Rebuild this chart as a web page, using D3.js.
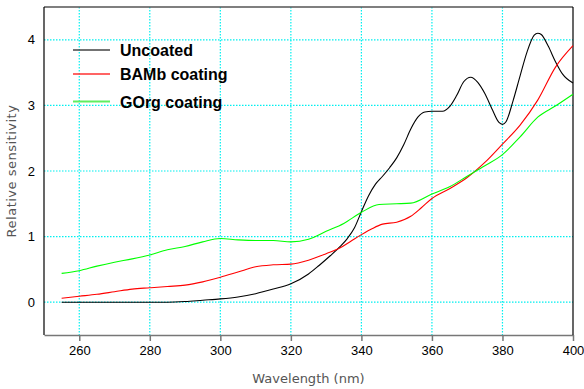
<!DOCTYPE html>
<html>
<head>
<meta charset="utf-8">
<script src="https://cdn.jsdelivr.net/npm/d3@7/dist/d3.min.js"></script>
<style>
  body { margin: 0; background: #fff; }
  svg { display: block; }
</style>
</head>
<body>
<div id="chart"></div>
<script>
// wavelength (nm) / relative sensitivity
const uncoatedNm = [255, 260, 265, 270, 275, 280, 285, 290, 295, 300, 305, 310, 315, 320, 325, 328, 331, 334, 336, 338, 340, 342, 344, 346, 348, 350, 352, 354, 356, 358, 360, 363, 365, 367, 369, 371, 373, 375, 377, 379, 380, 381, 383, 385, 387, 389, 390, 391, 393, 395, 397, 400];
const uncoatedVal = [0, 0, 0, 0, 0, 0, 0, 0.01, 0.03, 0.05, 0.08, 0.13, 0.2, 0.28, 0.43, 0.56, 0.7, 0.85, 0.97, 1.13, 1.38, 1.62, 1.8, 1.92, 2.05, 2.2, 2.4, 2.64, 2.82, 2.9, 2.91, 2.91, 2.98, 3.15, 3.36, 3.43, 3.35, 3.18, 2.95, 2.74, 2.71, 2.75, 3.07, 3.45, 3.82, 4.07, 4.1, 4.08, 3.9, 3.67, 3.48, 3.34];

const bambNm = [255, 260, 265, 270, 275, 280, 285, 290, 295, 300, 305, 310, 315, 320, 325, 330, 334, 337, 340, 343, 346, 350, 354, 357, 360, 365, 370, 375, 380, 385, 390, 395, 400];
const bambVal = [0.06, 0.09, 0.12, 0.16, 0.2, 0.22, 0.24, 0.26, 0.31, 0.38, 0.46, 0.54, 0.57, 0.58, 0.64, 0.74, 0.83, 0.93, 1.03, 1.12, 1.19, 1.22, 1.31, 1.44, 1.58, 1.73, 1.9, 2.13, 2.41, 2.7, 3.08, 3.58, 3.91];

const gorgNm = [255, 260, 265, 270, 275, 280, 285, 290, 295, 300, 305, 310, 315, 320, 325, 330, 335, 340, 345, 350, 354, 360, 365, 370, 375, 380, 385, 390, 395, 400];
const gorgVal = [0.44, 0.48, 0.55, 0.61, 0.66, 0.72, 0.8, 0.85, 0.92, 0.97, 0.95, 0.94, 0.94, 0.92, 0.96, 1.08, 1.2, 1.37, 1.49, 1.5, 1.51, 1.65, 1.76, 1.92, 2.08, 2.25, 2.52, 2.82, 2.99, 3.17];

const xTicks = [260, 280, 300, 320, 340, 360, 380, 400];
const yTicks = [0, 1, 2, 3, 4];
const seriesNames = ['Uncoated', 'BAMb coating', 'GOrg coating'];
const seriesColors = ['#000000', '#ff0000', '#00ff00'];

const W = 584, H = 389;
const margin = { top: 7, right: 11, bottom: 54, left: 44 };
const width = W - margin.left - margin.right;
const height = H - margin.top - margin.bottom;

const svg = d3.select('#chart').append('svg')
  .attr('width', W).attr('height', H);

const g = svg.append('g').attr('transform', `translate(${margin.left},${margin.top})`);

const x = d3.scaleLinear().domain([250, 400]).range([0, width]);
const y = d3.scaleLinear().domain([-0.5, 4.5]).range([height, 0]);

// grid
g.append('g').selectAll('line').data(xTicks.filter(d => d < 400)).enter().append('line')
  .attr('x1', d => x(d)).attr('x2', d => x(d))
  .attr('y1', 0).attr('y2', height)
  .attr('stroke', '#00f0f0').attr('stroke-width', 1.2)
  .attr('stroke-dasharray', '1.5,1.5');
g.append('g').selectAll('line').data(yTicks).enter().append('line')
  .attr('x1', 0).attr('x2', width)
  .attr('y1', d => y(d)).attr('y2', d => y(d))
  .attr('stroke', '#00f0f0').attr('stroke-width', 1.2)
  .attr('stroke-dasharray', '1.5,1.5');

// x axis
const xAxis = g.append('g')
  .attr('transform', `translate(0,${height})`)
  .call(d3.axisBottom(x).tickValues(xTicks).tickSize(6).tickSizeOuter(0).tickPadding(5));
xAxis.select('.domain').attr('stroke', '#777').attr('stroke-width', 1.5);
xAxis.selectAll('.tick line').attr('stroke', '#777').attr('stroke-width', 1.5);
xAxis.selectAll('.tick text')
  .attr('font-family', 'Liberation Sans, Arial, sans-serif')
  .attr('font-size', 13).attr('fill', '#000');

// y axis
const yAxis = g.append('g')
  .call(d3.axisLeft(y).tickValues(yTicks).tickFormat(d3.format('d')).tickSize(0).tickPadding(9));
yAxis.select('.domain').remove();
yAxis.selectAll('.tick text')
  .attr('font-family', 'Liberation Sans, Arial, sans-serif')
  .attr('font-size', 13).attr('fill', '#000');

// frame
g.append('line').attr('x1', 0).attr('x2', width).attr('y1', 0).attr('y2', 0)
  .attr('stroke', '#555').attr('stroke-width', 1.5);
g.append('line').attr('x1', 0).attr('x2', 0).attr('y1', 0).attr('y2', height)
  .attr('stroke', '#000').attr('stroke-width', 1.2);
g.append('line').attr('x1', width).attr('x2', width).attr('y1', 0).attr('y2', height)
  .attr('stroke', '#000').attr('stroke-width', 1.2);

// lines
const series = [
  uncoatedNm.map((d, i) => [d, uncoatedVal[i]]),
  bambNm.map((d, i) => [d, bambVal[i]]),
  gorgNm.map((d, i) => [d, gorgVal[i]])
];
const line = d3.line()
  .x(d => x(d[0])).y(d => y(d[1]))
  .curve(d3.curveMonotoneX);

g.selectAll('path.series').data(series).enter().append('path')
  .attr('class', 'series')
  .attr('d', line)
  .attr('fill', 'none')
  .attr('stroke', (d, i) => seriesColors[i])
  .attr('stroke-width', 1.1);

// legend
const legendY = [43, 67, 94.5];
const leg = g.append('g').selectAll('g').data(seriesNames).enter().append('g')
  .attr('transform', (d, i) => `translate(0,${legendY[i]})`);
leg.append('line')
  .attr('x1', 29).attr('x2', 66).attr('y1', 0).attr('y2', 0)
  .attr('stroke', (d, i) => i == 0 ? '#444' : (i == 1 ? '#ff3030' : '#60ee60'))
  .attr('stroke-width', (d, i) => i == 2 ? 2.2 : 1.5);
leg.append('text')
  .attr('x', 76).attr('y', 6)
  .attr('font-family', 'Liberation Sans, Arial, sans-serif')
  .attr('font-weight', 'bold').attr('font-size', 16)
  .attr('fill', '#000')
  .text(d => d);

// axis titles
svg.append('text')
  .attr('x', margin.left + width / 2).attr('y', 383)
  .attr('text-anchor', 'middle')
  .attr('font-family', 'DejaVu Sans, sans-serif')
  .attr('font-size', 13).attr('fill', '#555')
  .text('Wavelength (nm)');

svg.append('text')
  .attr('transform', `translate(16,${margin.top + height / 2}) rotate(-90)`)
  .attr('text-anchor', 'middle')
  .attr('font-family', 'DejaVu Sans, sans-serif')
  .attr('font-size', 13).attr('fill', '#555')
  .attr('letter-spacing', 0.5)
  .text('Relative sensitivity');
</script>
</body>
</html>
